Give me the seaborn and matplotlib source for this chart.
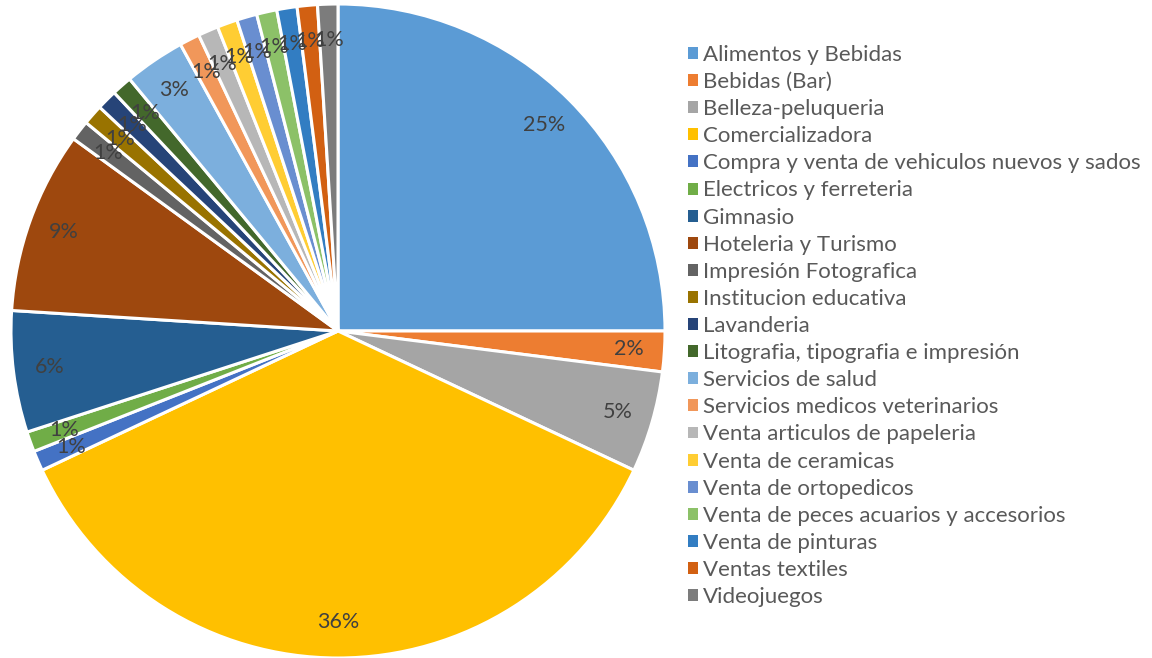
import numpy as np
import seaborn as sns
import matplotlib.pyplot as plt
from matplotlib.patches import Patch

sns.set_style("white")
plt.rcParams['font.family'] = ['Lato', 'DejaVu Sans']

categories = [
    "Alimentos y Bebidas", "Bebidas (Bar)", "Belleza-peluqueria", "Comercializadora",
    "Compra y venta de vehiculos nuevos y sados", "Electricos y ferreteria", "Gimnasio",
    "Hoteleria y Turismo", "Impresión Fotografica", "Institucion educativa", "Lavanderia",
    "Litografia, tipografia e impresión", "Servicios de salud", "Servicios medicos veterinarios",
    "Venta articulos de papeleria", "Venta de ceramicas", "Venta de ortopedicos",
    "Venta de peces acuarios y accesorios", "Venta de pinturas", "Ventas textiles", "Videojuegos",
]
percent = [25, 2, 5, 36, 1, 1, 6, 9, 1, 1, 1, 1, 3, 1, 1, 1, 1, 1, 1, 1, 1]
colors = [
    "#5B9BD5", "#ED7D31", "#A5A5A5", "#FFC000", "#4472C4", "#70AD47",
    "#255E91", "#9E480E", "#636363", "#997300", "#264478", "#43682B",
    "#7CAFDD", "#F1975A", "#B7B7B7", "#FFCD33", "#698ED0", "#8CC168",
    "#327DC2", "#D26012", "#7C7C7C",
]

fig = plt.figure(figsize=(11.52, 6.58), dpi=100)
ax = fig.add_axes([11 / 1152, 0.0, 654 / 1152, 654 / 658])

wedges, texts = ax.pie(
    percent, colors=colors, startangle=90, counterclock=False,
    wedgeprops=dict(edgecolor="white", linewidth=2.2),
)
ax.set_xlim(-1, 1)
ax.set_ylim(-1, 1)
ax.set_aspect("equal")
ax.axis("off")

# percentage labels near the outer edge, Excel style
for w, p in zip(wedges, percent):
    ang = np.deg2rad((w.theta1 + w.theta2) / 2)
    r = 0.89
    ax.text(r * np.cos(ang), r * np.sin(ang), f"{p}%", ha="center", va="center",
            fontsize=15.5, color="#404040")

handles = [Patch(facecolor=c, edgecolor="none") for c in colors]
fig.legend(handles, categories, loc="upper left", bbox_to_anchor=(679 / 1152, 1 - 36 / 658),
           frameon=False, fontsize=16, labelcolor="#595959", handlelength=0.45,
           handleheight=0.45, handletextpad=0.24, labelspacing=0.32, borderaxespad=0)

fig.savefig("out.png", dpi=100, facecolor="white")
